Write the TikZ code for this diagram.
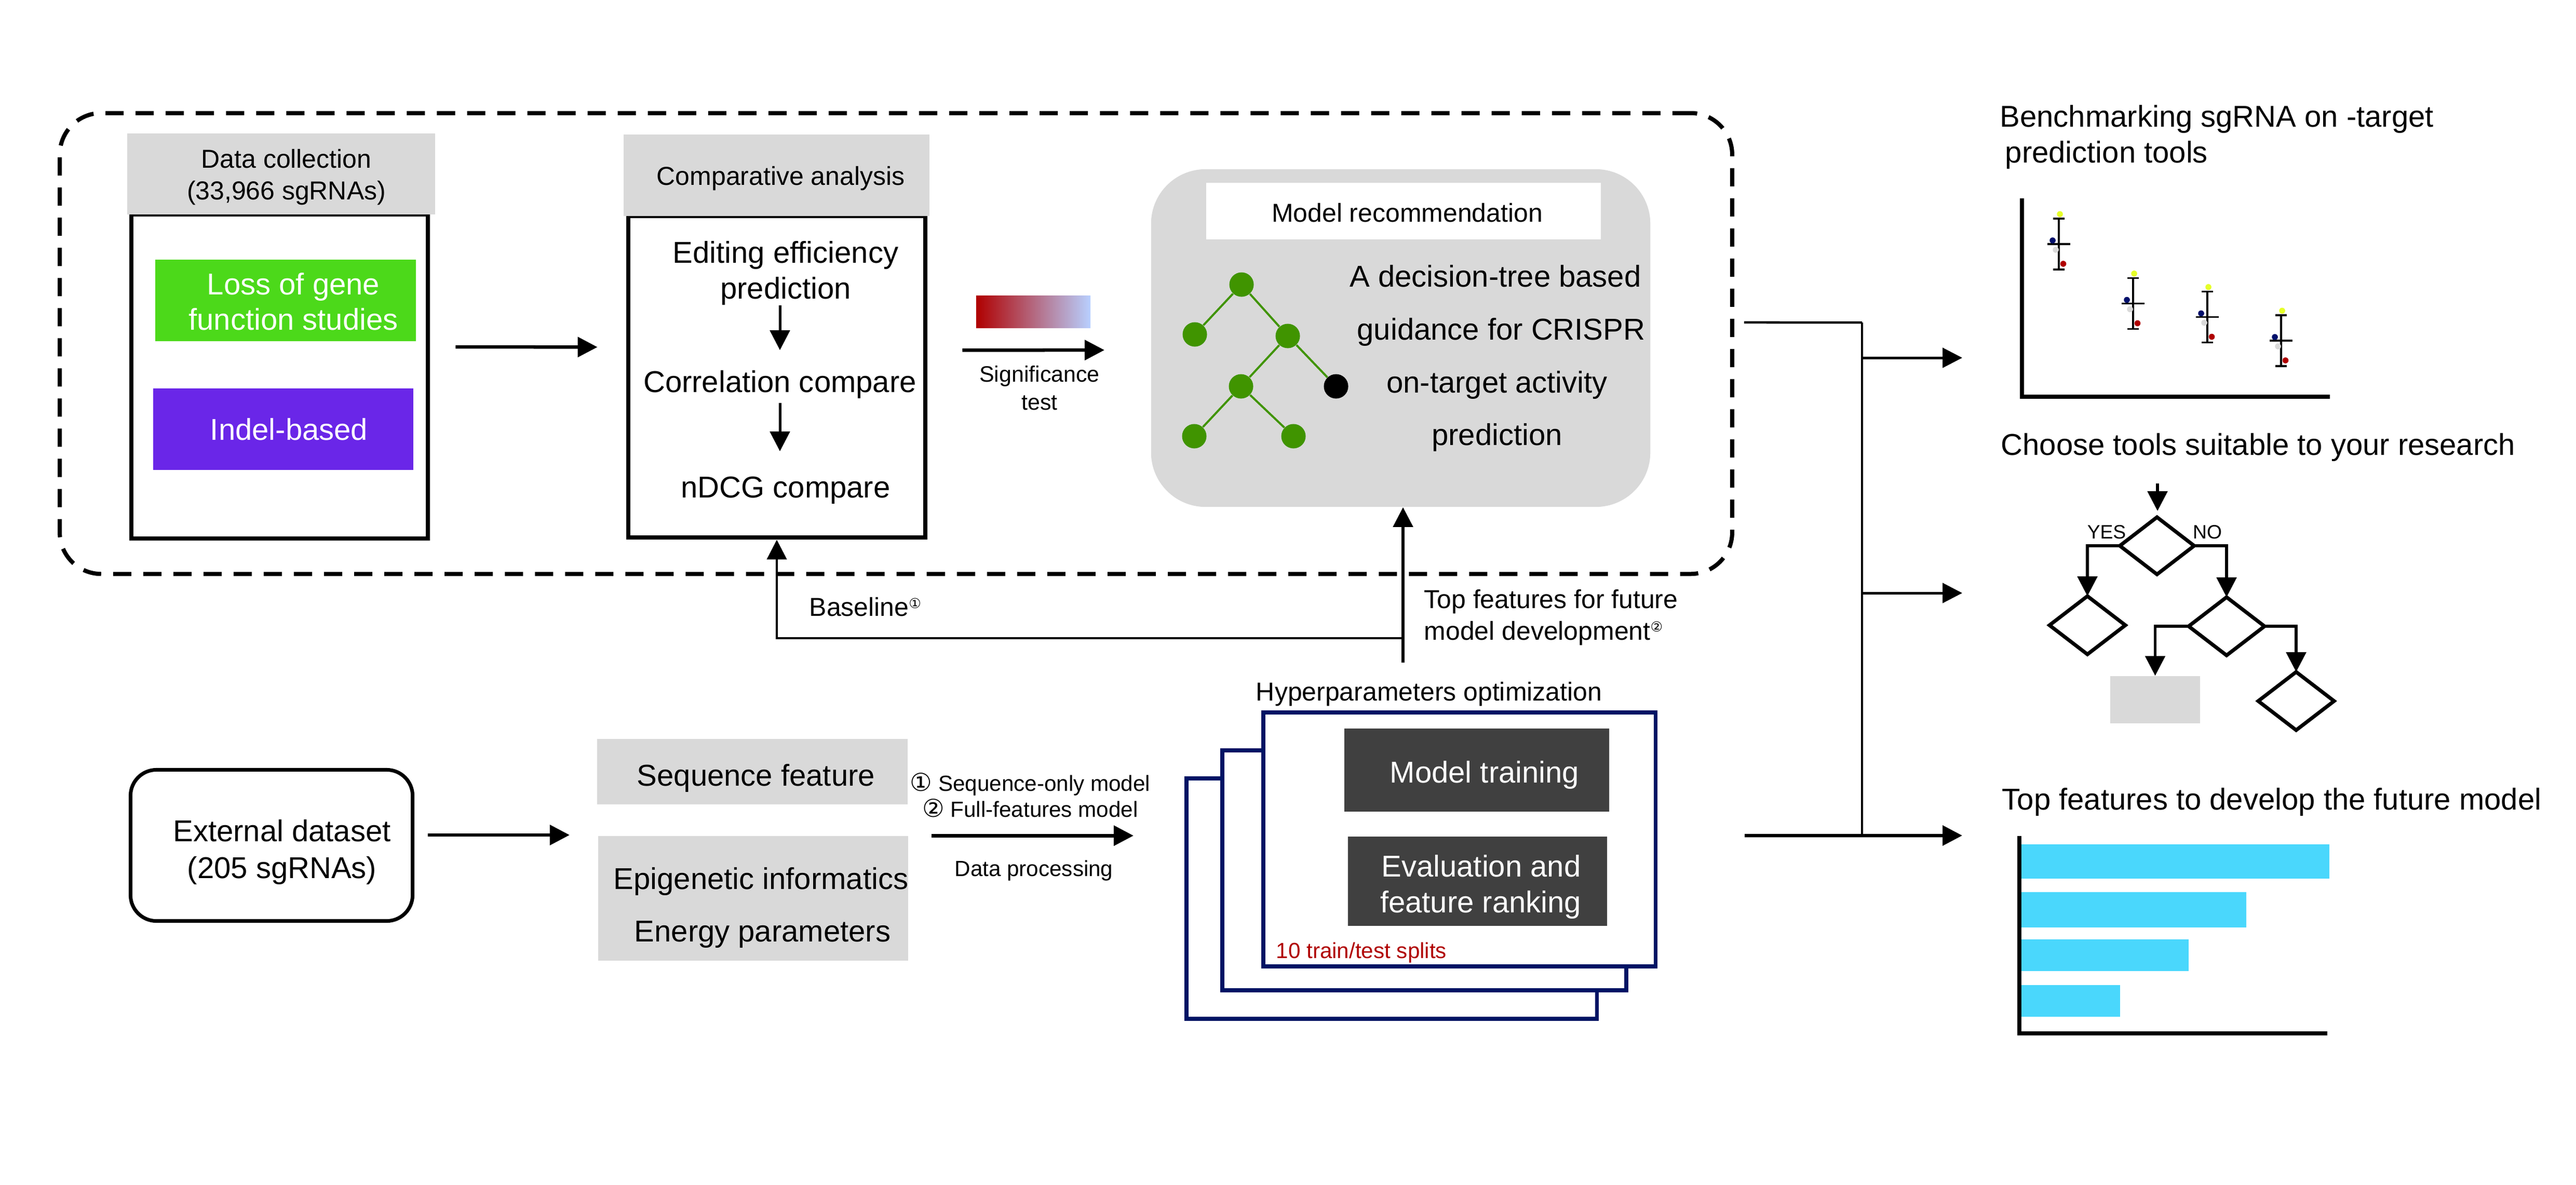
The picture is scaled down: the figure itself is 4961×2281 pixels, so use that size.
\documentclass[tikz,border=0pt]{standalone}
\usepackage{fontspec}
\setmainfont{Liberation Sans}
\newfontfamily\circfont{DejaVu Sans}
\usetikzlibrary{arrows.meta,shapes.geometric,calc}
\definecolor{panelgrey}{HTML}{D9D9D9}
\definecolor{lossgreen}{HTML}{4CD91A}
\definecolor{indelpurple}{HTML}{6A26E8}
\definecolor{treegreen}{HTML}{409400}
\definecolor{stacknavy}{HTML}{001464}
\definecolor{darkbox}{HTML}{404040}
\definecolor{splitred}{HTML}{B00000}
\definecolor{barblue}{HTML}{4AD7FC}
\definecolor{dotyellow}{HTML}{E6FF29}
\definecolor{dotnavy}{HTML}{000F6B}
\definecolor{gradmid}{HTML}{B07488}
\definecolor{gradright}{HTML}{B8D0FF}
\newcommand{\smallnum}[1]{\raisebox{0.6ex}{\circfont\fontsize{7.5}{9}\selectfont #1}}
\newcommand{\bignum}[1]{{\circfont\fontsize{13.5}{14}\selectfont #1}}
\newcommand{\pad}[1]{\rule{0pt}{#1}}
\tikzstyle{big text}=[align=center, inner sep=0pt, font=\fontsize{16.5}{19.4}\selectfont]
\tikzstyle{mid text}=[align=center, inner sep=0pt, font=\fontsize{14.2}{17.4}\selectfont]
\tikzstyle{small text}=[align=center, inner sep=0pt, font=\fontsize{12}{14.2}\selectfont]
\tikzstyle{title text}=[big text, anchor=west, align=left]
\tikzstyle{panel}=[draw=black, line width=0.08cm, rounded corners=0.8cm, dash pattern=on 0.35cm off 0.23cm]
\tikzstyle{open box}=[draw=black, line width=0.085cm, fill=white]
\tikzstyle{fill box}=[inner sep=0pt]
\tikzstyle{stack}=[draw=stacknavy, fill=white, line width=0.075cm]
\tikzstyle{leaf}=[circle, fill=treegreen, minimum size=0.47cm, inner sep=0pt]
\tikzstyle{choice}=[diamond, draw=black, line width=0.07cm, fill=white, inner sep=0pt, outer sep=0pt, minimum width=1.46cm, minimum height=1.12cm]
\tikzstyle{my arrow}=[-{Triangle[length=0.38cm,width=0.38cm]}, line width=0.065cm]
\tikzstyle{thin arrow}=[my arrow, line width=0.045cm]
\tikzstyle{thin line}=[line width=0.045cm]
\tikzstyle{axis line}=[line width=0.08cm]
\begin{document}
\begin{tikzpicture}[x=0.01cm,y=-0.01cm]
\useasboundingbox (0,0) rectangle (4961,2281);

\draw (1725.5,661.5) node[panel,minimum width=32.19cm,minimum height=8.87cm] (panel) {};

% data collection
\draw (538.5,725) node[open box,minimum width=5.71cm,minimum height=6.24cm] (datbox) {};
\draw (541.5,335) node[fill box,mid text,fill=panelgrey,minimum width=5.93cm,minimum height=1.56cm] (dathead)
{\pad{13.8pt}\hspace*{0.2cm}Data collection\\\hspace*{0.2cm}(33,966 sgRNAs)};
\draw (550,578.5) node[fill box,big text,text=white,fill=lossgreen,minimum width=5.02cm,minimum height=1.57cm] (loss)
{\pad{13.2pt}\hspace*{0.3cm}Loss of gene\\\hspace*{0.3cm}function studies};
\draw (545.5,826.5) node[fill box,big text,text=white,fill=indelpurple,minimum width=5.01cm,minimum height=1.57cm] (indel)
{\hspace*{0.22cm}Indel-based};

% comparative analysis
\draw (1496,725.5) node[open box,minimum width=5.72cm,minimum height=6.19cm] (combox) {};
\draw (1495.5,337.5) node[fill box,mid text,fill=panelgrey,minimum width=5.89cm,minimum height=1.57cm] (comhead)
{\pad{13.8pt}\hspace*{0.16cm}Comparative analysis};
\draw (1513,526) node[big text] (editing) {Editing efficiency\\prediction};
\draw (1502,740) node[big text] (correlation) {Correlation compare};
\draw (1513,944) node[big text] (ndcg) {nDCG compare};
\draw[my arrow,line width=0.05cm,shorten <=0.0cm,shorten >=0.38cm] (correlation.north |- editing.south) -- (correlation.north);
\draw[my arrow,line width=0.05cm,shorten <=0.08cm,shorten >=0.48cm] (correlation.south) -- (correlation.south |- ndcg.north);
\draw[my arrow,shorten <=0.49cm,shorten >=0.55cm] ([yshift=0.57cm]datbox.east) -- ([yshift=0.57cm]combox.west);

% model recommendation
\draw (1990,600.5) node[fill box,left color=splitred,middle color=gradmid,right color=gradright,minimum width=2.2cm,minimum height=0.61cm] (gradbar) {};
\draw (2697.5,651) node[fill box,fill=panelgrey,rounded corners=1.05cm,minimum width=9.61cm,minimum height=6.5cm] (modelbox) {};
\draw (2703,406.5) node[fill box,mid text,fill=white,minimum width=7.6cm,minimum height=1.08cm] (modelhead)
{\pad{12.1pt}\hspace*{0.14cm}Model recommendation};
\draw[my arrow,shorten <=0.67cm,shorten >=0.89cm] ([yshift=0.51cm]combox.east) -- ([yshift=-0.23cm]modelbox.west);
\draw (2002,747) node[small text,font=\fontsize{12.2}{15.4}\selectfont] (signif) {Significance\\test};

\draw (2391,548) node[leaf] (t1) {};
\draw (2301,644) node[leaf] (t2) {};
\draw (2480,647) node[leaf] (t3) {};
\draw (2390,744) node[leaf] (t4) {};
\draw (2573,744) node[leaf,fill=black] (t5) {};
\draw (2300,840) node[leaf] (t6) {};
\draw (2491,840) node[leaf] (t7) {};
\draw[treegreen,line width=0.04cm] (t1) -- (t2) (t1) -- (t3) (t3) -- (t4) (t3) -- (t5) (t4) -- (t6) (t4) -- (t7);
\draw (2883,690) node[big text] (treetext)
{A decision-tree based\hspace*{0.06cm}\\[9.6pt]\hspace*{0.16cm}guidance for CRISPR\\[9.6pt]on-target activity\\[9.6pt]prediction};

% feedback from the training step
\coordinate (fork) at (2702,1229);
\coordinate (forkend) at (2702,1276);
\draw[my arrow,line width=0.055cm] (forkend) -- (fork |- modelbox.south);
\draw[thin arrow] (fork) -| (combox.south);
\draw (1558,1169) node[mid text,anchor=west] (baseline) {Baseline\smallnum{①}};
\draw (2742,1189) node[mid text,anchor=west,align=left] (topfeat) {Top features for future\\model development\smallnum{②}};

% external data
\draw (523,1628) node[open box,line width=0.07cm,rounded corners=0.5cm,minimum width=5.43cm,minimum height=2.91cm,big text,font=\fontsize{16.5}{20.2}\selectfont] (external)
{\pad{19.4pt}\hspace*{0.4cm}External dataset\\\hspace*{0.4cm}(205 sgRNAs)};
\draw (1449,1486) node[fill box,big text,fill=panelgrey,minimum width=5.97cm,minimum height=1.26cm] (seqbox)
{\pad{18.8pt}\hspace*{0.14cm}Sequence feature};
\draw (1450.5,1730) node[fill box,big text,fill=panelgrey,minimum width=5.95cm,minimum height=2.4cm] (epibox)
{\pad{22.2pt}\hspace*{0.3cm}Epigenetic informatics\\[9.2pt]\hspace*{0.36cm}Energy parameters};
\draw[my arrow,shorten <=0.26cm,shorten >=0.54cm] ([yshift=0.2cm]external.east) -- ([yshift=0.2cm]external.east -| epibox.west);
\draw (1984,1531) node[small text] (modelopts) {\bignum{①} Sequence-only model\\\bignum{②} Full-features model};
\draw (1991,1677) node[small text] (process) {Data processing};

% hyperparameter stack
\draw (2752,1337) node[mid text] (hyper) {Hyperparameters optimization};
\draw (2680,1730.5) node[stack,minimum width=7.9cm,minimum height=4.63cm] (backsheet) {};
\draw (2743,1676) node[stack,minimum width=7.775cm,minimum height=4.62cm] (midsheet) {};
\draw (2810.5,1616.5) node[stack,minimum width=7.55cm,minimum height=4.89cm] (frontsheet) {};
\draw (2844,1483) node[fill box,big text,text=white,fill=darkbox,minimum width=5.1cm,minimum height=1.6cm] (training)
{\pad{17.1pt}\hspace*{0.3cm}Model training};
\draw (2845.5,1697) node[fill box,big text,text=white,fill=darkbox,minimum width=4.99cm,minimum height=1.72cm] (evaluation)
{\pad{18.2pt}\hspace*{0.14cm}Evaluation and\\\hspace*{0.12cm}feature ranking};
\draw (2457,1835) node[small text,anchor=west,text=splitred] (splits) {10 train/test splits};
\draw[my arrow,shorten <=0.44cm,shorten >=0.98cm] (epibox.north east) -- (epibox.north east -| backsheet.west);

% outputs on the right
\coordinate (split) at (3586,621);
\coordinate (topin) at (3779,689);
\coordinate (midin) at (3779,1142);
\coordinate (lowin) at (3779,1609);
\draw[thin line,shorten <=0.19cm] ([yshift=0.405cm]panel.east) -- (split);
\draw[thin line] (split) -- (split |- 0,1606);
\draw[my arrow,line width=0.05cm] (split |- topin) -- (topin);
\draw[my arrow,line width=0.05cm] (split |- midin) -- (midin);
\draw[my arrow,shorten <=1.68cm] ([yshift=0.075cm]frontsheet.east) -- (lowin);

% error bar chart
\draw (3851,264) node[title text] (benchtitle) {Benchmarking sgRNA on -target\\\hspace*{0.1cm}prediction tools};
\draw[axis line] (3894,382) -- (3894,764) -- (4487,764);
\foreach \x/\m in {3965/470,4108/584.5,4251/610.5,4393/656}
{
\draw[line width=0.04cm] (\x,\m-49) -- (\x,\m+49);
\draw[line width=0.035cm] (\x-11,\m-49) -- (\x+11,\m-49) (\x-11,\m+49) -- (\x+11,\m+49);
\draw[line width=0.035cm] (\x-22,\m) -- (\x+22,\m);
\fill[dotyellow] (\x+2,\m-57.7) circle (5.8);
\fill[dotnavy] (\x-12,\m-7) circle (5.8);
\fill[panelgrey] (\x-6,\m+11) circle (5.8);
\fill[splitred] (\x+8.5,\m+38) circle (5.8);
}

% decision chart
\draw (3853,861) node[title text] (choosetitle) {Choose tools suitable to your research};
\coordinate (flowtop) at (4155,931);
\draw (4154,1051) node[choice,minimum width=1.43cm,minimum height=1.1cm] (d1) {};
\draw (4020,1204) node[choice] (d2) {};
\draw (4288,1206) node[choice] (d3) {};
\draw (4150.5,1347.5) node[fill box,fill=panelgrey,minimum width=1.73cm,minimum height=0.91cm] (leafbox) {};
\draw (4422,1350) node[choice] (d4) {};
\draw[my arrow,line width=0.055cm,shorten >=0.12cm] (flowtop) -- (flowtop |- d1.north);
\draw[my arrow,line width=0.055cm] (d1.west) -| (d2.north);
\draw[my arrow,line width=0.055cm] (d1.east) -| (d3.north);
\draw[my arrow,line width=0.055cm] (d3.west) -| (leafbox.north);
\draw[my arrow,line width=0.055cm] (d3.east) -| (d4.north);
\draw (4057,1025) node[small text,font=\fontsize{10.6}{12}\selectfont] (yes) {YES};
\draw (4251,1025) node[small text,font=\fontsize{10.6}{12}\selectfont] (no) {NO};

% feature bars
\draw (3855,1544) node[title text] (bartitle) {Top features to develop the future model};
\foreach \w/\a/\b in {4486/1626/1692,4326/1717.5/1786,4215/1809/1870,4083/1897/1958}
{
\fill[barblue] (3893,\a) rectangle (\w,\b);
}
\draw[axis line] (3889,1610) -- (3889,1990) -- (4482,1990);
\end{tikzpicture}
\end{document}
